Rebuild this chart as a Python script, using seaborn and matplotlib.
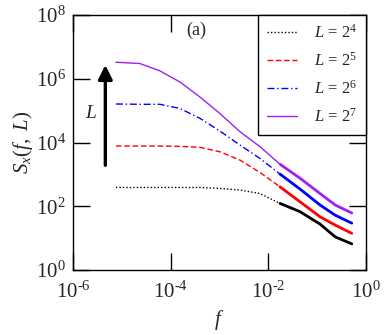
import numpy as np
import pandas as pd
import seaborn as sns
import matplotlib.pyplot as plt

# log10 of frequency and of S_x(f, L)
log_f = [-5.12, -4.63, -4.22, -3.81, -3.40, -2.99, -2.58, -2.17, -1.76, -1.35, -0.94, -0.63, -0.29]
log_s_L4 = [2.59, 2.59, 2.59, 2.59, 2.59, 2.56, 2.51, 2.40, 2.09, 1.83, 1.44, 1.04, 0.82]
log_s_L5 = [3.89, 3.89, 3.89, 3.88, 3.85, 3.71, 3.45, 3.06, 2.61, 2.14, 1.67, 1.41, 1.15]
log_s_L6 = [5.21, 5.20, 5.20, 5.07, 4.76, 4.36, 3.92, 3.50, 3.01, 2.54, 2.04, 1.72, 1.47]
log_s_L7 = [6.52, 6.48, 6.25, 5.90, 5.43, 4.91, 4.34, 3.87, 3.32, 2.88, 2.40, 2.04, 1.79]

labels = [r"$L$ = 2$^{4}$", r"$L$ = 2$^{5}$", r"$L$ = 2$^{6}$", r"$L$ = 2$^{7}$"]
colors = ["black", "#ff0000", "#0000ff", "#a020f0"]
styles = [(0, (1, 1.5)), (0, (4, 2)), (0, (5, 2, 1, 2)), "-"]

xticks = [1e-6, 1e-4, 1e-2, 1e0]
xticklabels = [r"$10^{\text{-6}}$", r"$10^{\text{-4}}$", r"$10^{\text{-2}}$", r"$10^{0}$"]
yticks = [1e0, 1e2, 1e4, 1e6, 1e8]
yticklabels = [r"$10^{0}$", r"$10^{2}$", r"$10^{4}$", r"$10^{6}$", r"$10^{8}$"]

sns.set_theme(style="ticks")
plt.rcParams["font.family"] = ["Liberation Serif", "DejaVu Serif"]
plt.rcParams["mathtext.fontset"] = "custom"
plt.rcParams["mathtext.rm"] = "Liberation Serif"
plt.rcParams["mathtext.it"] = "Liberation Serif:italic"

fig = plt.figure(figsize=(3.84, 3.35), dpi=100)
ax = fig.add_axes([0.190, 0.194, 0.763, 0.761])

f = 10.0 ** np.array(log_f)
series = [log_s_L4, log_s_L5, log_s_L6, log_s_L7]
cut = 8  # from here up the dense noisy data reads as a thick solid band
for s, lab, c, ls in zip(series, labels, colors, styles):
    df = pd.DataFrame({"f": f, "S": 10.0 ** np.array(s)})
    low = df.iloc[:cut + 1]
    high = df.iloc[cut:]
    sns.lineplot(data=low, x="f", y="S", ax=ax, color=c, linestyle=ls,
                 linewidth=1.0, label=lab, sort=False)
    sns.lineplot(data=high, x="f", y="S", ax=ax, color=c, linestyle="-",
                 linewidth=2.0, sort=False)

ax.set_xscale("log")
ax.set_yscale("log")
ax.set_xlim(1e-6, 1e0)
ax.set_ylim(1e0, 1e8)
ax.set_xticks(xticks)
ax.set_xticklabels(xticklabels)
ax.set_yticks(yticks)
ax.set_yticklabels(yticklabels)
ax.minorticks_off()
ax.tick_params(which="major", direction="in", length=12, width=1.0,
               top=True, right=True, labelsize=15, color="black")
ax.tick_params(axis="x", pad=8)
ax.tick_params(axis="y", pad=5)
for sp in ax.spines.values():
    sp.set_linewidth(1.0)
    sp.set_color("black")

ax.set_xlabel(r"$f$", fontsize=15, labelpad=4)
ax.set_ylabel(r"$S_x(f,\ L)$", fontsize=15, labelpad=1)

ax.annotate("", xy=(4.6e-6, 10 ** 6.52), xytext=(4.6e-6, 10 ** 3.2),
            arrowprops=dict(arrowstyle="-|>,head_width=0.35,head_length=0.7",
                            color="black", lw=2.4))
ax.text(2.35e-6, 10 ** 4.9, r"$L$", fontsize=14, ha="center", va="center")
ax.text(0.385, 0.94, "(a)", transform=ax.transAxes, fontsize=13,
        ha="left", va="center")

leg = ax.legend(loc="upper right", bbox_to_anchor=(1.0, 1.0), fontsize=12,
                frameon=True, fancybox=False, framealpha=1, edgecolor="black",
                handlelength=1.8, labelspacing=0.6, borderaxespad=0,
                borderpad=0.55, handletextpad=1.0)
leg.get_frame().set_linewidth(1.0)

fig.savefig("out.png", dpi=100)
